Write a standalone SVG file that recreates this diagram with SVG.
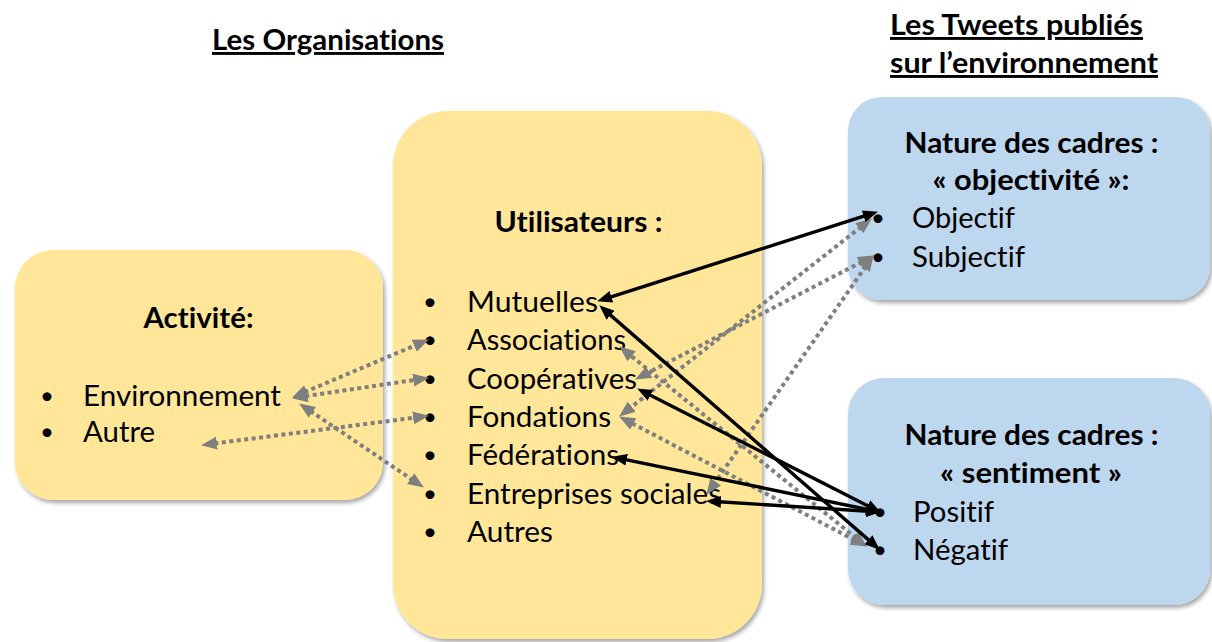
<svg xmlns="http://www.w3.org/2000/svg" width="1212" height="642" viewBox="0 0 1212 642">
<style>
text{font-family:Lato,"Liberation Sans",sans-serif;font-size:29px;fill:#000;font-variant-ligatures:none}
.b{font-weight:bold}
.c{text-anchor:middle}
.d{text-anchor:middle;font-size:24px}
.u{text-decoration:underline}
.y{fill:#FFE699}
.bl{fill:#BDD7EE}
.g{fill:none;stroke:#7F7F7F;stroke-width:4;stroke-dasharray:4 3.5;marker-start:url(#ga);marker-end:url(#ga)}
.k{fill:none;stroke:#000;stroke-width:3.4;marker-start:url(#ka);marker-end:url(#ka)}
</style>
<defs>
<filter id="sh" x="-10%" y="-10%" width="130%" height="130%">
<feDropShadow dx="2" dy="3" stdDeviation="2" flood-color="#000" flood-opacity="0.35"/>
</filter>
<marker id="ga" markerUnits="userSpaceOnUse" markerWidth="16" markerHeight="13" viewBox="0 0 16 13" refX="10" refY="6.5" orient="auto-start-reverse">
<path d="M0,0 L16,6.5 L0,13 z" fill="#7F7F7F"/>
</marker>
<marker id="ka" markerUnits="userSpaceOnUse" markerWidth="15" markerHeight="12" viewBox="0 0 15 12" refX="10" refY="6" orient="auto-start-reverse">
<path d="M0,0 L15,6 L0,12 z" fill="#000"/>
</marker>
</defs>
<rect width="1212" height="642" fill="#fff"/>

<g id="titles">
<text class="b u c" x="328" y="50" textLength="232" lengthAdjust="spacingAndGlyphs">Les Organisations</text>
<text class="b u" x="890" y="35" textLength="253" lengthAdjust="spacingAndGlyphs">Les Tweets publiés </text>
<text class="b u" x="890" y="73" textLength="268" lengthAdjust="spacingAndGlyphs">sur l’environnement</text>
</g>

<g id="activite">
<rect class="y" x="15" y="250" width="368" height="250" rx="38" filter="url(#sh)"/>
<text class="b c" x="198.5" y="328" textLength="110" lengthAdjust="spacingAndGlyphs">Activité:</text>
<text class="d" x="47" y="404">•</text>
<text x="83" y="406" textLength="198" lengthAdjust="spacingAndGlyphs">Environnement</text>
<text class="d" x="47" y="440">•</text>
<text x="83" y="442" textLength="72" lengthAdjust="spacingAndGlyphs">Autre</text>
</g>

<g id="utilisateurs">
<rect class="y" x="393" y="111" width="369" height="528" rx="55" filter="url(#sh)"/>
<text class="b c" x="578.5" y="232" textLength="168" lengthAdjust="spacingAndGlyphs">Utilisateurs :</text>
<text class="d" x="430" y="310">•</text>
<text x="467" y="312" textLength="131" lengthAdjust="spacingAndGlyphs">Mutuelles</text>
<text class="d" x="430" y="348">•</text>
<text x="467" y="350" textLength="159" lengthAdjust="spacingAndGlyphs">Associations</text>
<text class="d" x="430" y="387">•</text>
<text x="467" y="389" textLength="170" lengthAdjust="spacingAndGlyphs">Coopératives</text>
<text class="d" x="430" y="425">•</text>
<text x="467" y="427" textLength="144" lengthAdjust="spacingAndGlyphs">Fondations</text>
<text class="d" x="430" y="463">•</text>
<text x="467" y="465" textLength="152" lengthAdjust="spacingAndGlyphs">Fédérations</text>
<text class="d" x="430" y="502">•</text>
<text x="467" y="504" textLength="254" lengthAdjust="spacingAndGlyphs">Entreprises sociales</text>
<text class="d" x="430" y="540">•</text>
<text x="467" y="542" textLength="86" lengthAdjust="spacingAndGlyphs">Autres</text>
</g>

<g id="objectivite">
<rect class="bl" x="848" y="97" width="362" height="203" rx="34" filter="url(#sh)"/>
<text class="b c" x="1031.5" y="153" textLength="254" lengthAdjust="spacingAndGlyphs">Nature des cadres :</text>
<text class="b c" x="1031" y="190" textLength="197" lengthAdjust="spacingAndGlyphs">« objectivité »:</text>
<text class="d" x="878" y="226">•</text>
<text x="912" y="228" textLength="103" lengthAdjust="spacingAndGlyphs">Objectif</text>
<text class="d" x="878" y="265">•</text>
<text x="912" y="267" textLength="113" lengthAdjust="spacingAndGlyphs">Subjectif</text>
</g>

<g id="sentiment">
<rect class="bl" x="848" y="378" width="362" height="227" rx="36" filter="url(#sh)"/>
<text class="b c" x="1031.5" y="445" textLength="254" lengthAdjust="spacingAndGlyphs">Nature des cadres :</text>
<text class="b c" x="1031" y="483" textLength="182" lengthAdjust="spacingAndGlyphs">« sentiment »</text>
<text class="d" x="880" y="520">•</text>
<text x="913" y="522" textLength="81" lengthAdjust="spacingAndGlyphs">Positif</text>
<text class="d" x="880" y="558">•</text>
<text x="913" y="560" textLength="95" lengthAdjust="spacingAndGlyphs">Négatif</text>
</g>

<g id="connectors">
<path class="g" d="M297.6,395.1 L423.4,341.9"/>
<path class="g" d="M297.9,397.3 L423.1,378.7"/>
<path class="g" d="M304.1,406.8 L418.9,484.2"/>
<path class="g" d="M207,444.4 L423,416.6"/>
<path class="g" d="M867.1,222.1 L623.9,412.9"/>
<path class="g" d="M868.6,258.3 L640.4,376.7"/>
<path class="g" d="M870.1,260.1 L709.9,489.9"/>
<path class="g" d="M862.1,542.9 L623.9,350.1"/>
<path class="g" d="M861.6,543.7 L624.4,419.3"/>
<path class="k" d="M873.2,213.2 L601.8,299.8"/>
<path class="k" d="M876,546.4 L603,308.6"/>
<path class="k" d="M876.4,510.2 L641.6,390.8"/>
<path class="k" d="M876.1,511.2 L616.9,457.8"/>
<path class="k" d="M876,511.7 L711,501.3"/>
</g>
</svg>
